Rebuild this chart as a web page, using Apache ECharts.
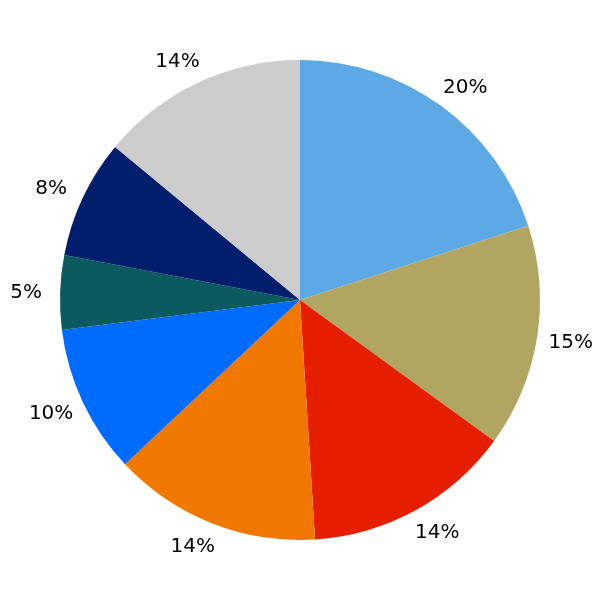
<!DOCTYPE html>
<html>
<head>
<meta charset="utf-8">
<style>html,body{margin:0;padding:0;background:#fff;}#c{width:600px;height:600px;}</style>
<script src="https://cdn.jsdelivr.net/npm/echarts@6/dist/echarts.min.js"></script>
</head>
<body>
<div id="c"></div>
<script>
const categories = ['A', 'B', 'C', 'D', 'E', 'F', 'G', 'H'];
const values = [20, 15, 14, 14, 10, 5, 8, 14];
const colors = ['#5DA9E5', '#B1A562', '#E51E00', '#F07800', '#006BFF', '#0B5A60', '#001E6B', '#CCCCCC'];

const chart = echarts.init(document.getElementById('c'), null, {renderer: 'canvas'});
const total = values.reduce((a, b) => a + b, 0);
chart.setOption({
  animation: false,
  backgroundColor: '#ffffff',
  series: [{
    type: 'pie',
    center: [300, 300],
    radius: 240,
    startAngle: 90,
    clockwise: true,
    avoidLabelOverlap: false,
    emphasis: {disabled: true},
    itemStyle: {borderWidth: 0},
    data: categories.map((c, i) => ({name: c, value: values[i], itemStyle: {color: colors[i]}})),
    label: {
      show: true,
      position: 'outside',
      alignTo: 'none',
      fontFamily: 'DejaVu Sans',
      fontSize: 20,
      color: '#000',
      formatter: p => Math.round(p.value / total * 100) + '%'
    },
    labelLine: {show: true, length: 24, length2: 10, lineStyle: {opacity: 0}},
    labelLayout: function (params) {
      const pts = params.labelLinePoints;
      if (!pts) return {};
      const p = pts[pts.length - 1];
      return {x: p[0], y: p[1] + 1, align: 'center', verticalAlign: 'middle'};
    }
  }]
});
</script>
</body>
</html>
